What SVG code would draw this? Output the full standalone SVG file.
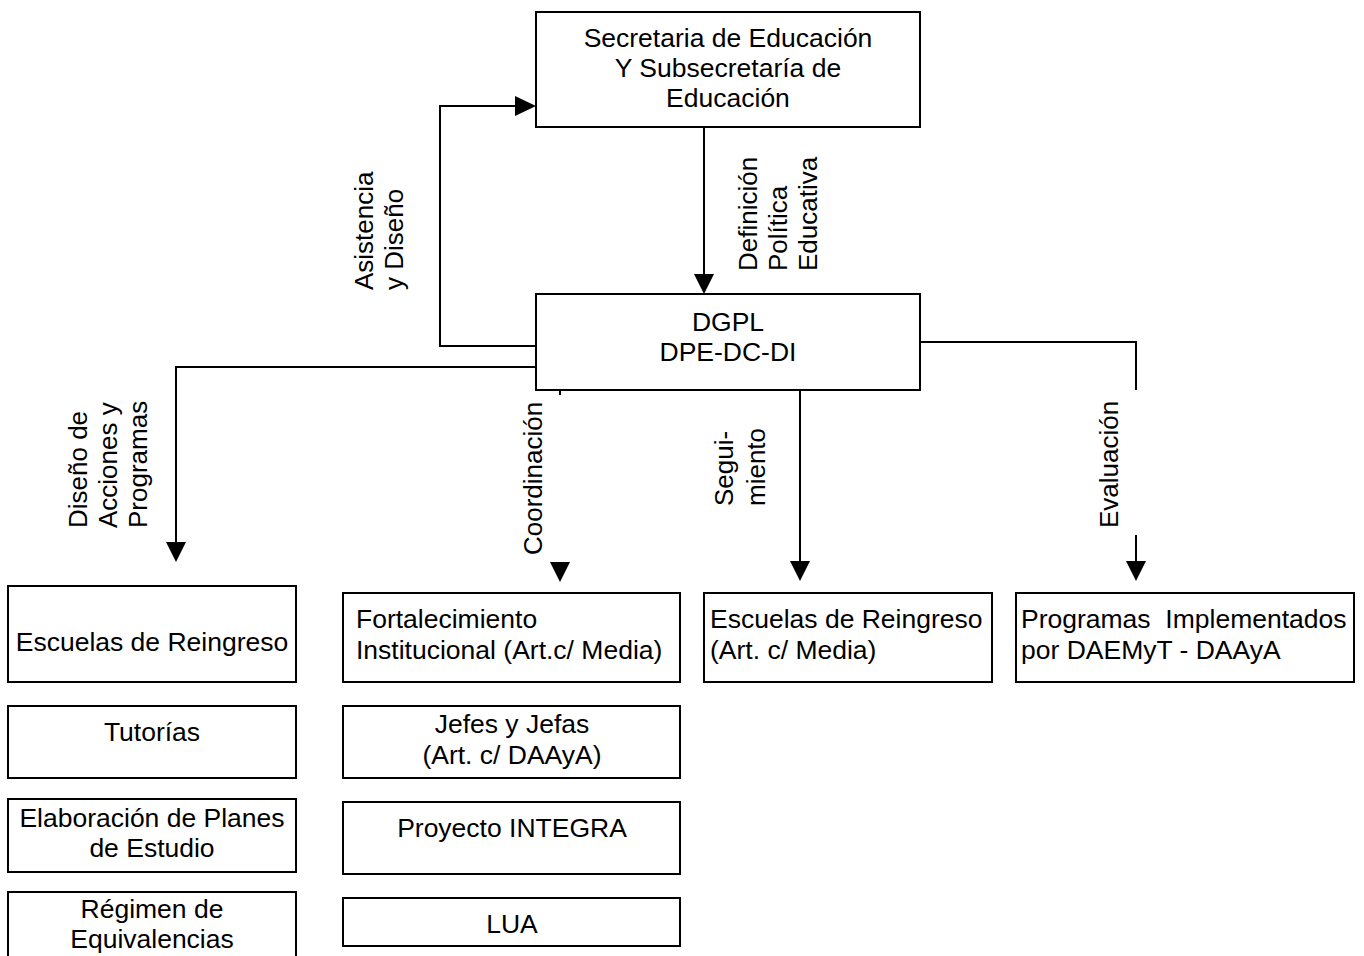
<svg xmlns="http://www.w3.org/2000/svg" width="1364" height="956" viewBox="0 0 1364 956">
<style>
  .box { fill: #ffffff; stroke: #000000; stroke-width: 2; }
  .t { font-family: "Liberation Sans", Arial, sans-serif; font-size: 26.5px; fill: #000000; }
  .c { text-anchor: middle; }
  .r { font-family: "Liberation Sans", Arial, sans-serif; font-size: 26px; fill: #000000; }
  .ln { fill: none; stroke: #000000; stroke-width: 2; }
  .ah { fill: #000000; stroke: none; }
</style>
<rect width="1364" height="956" fill="#ffffff"/>

<g id="connectors">
  <line class="ln" x1="704" y1="127" x2="704" y2="276"/>
  <polygon class="ah" points="694,274 714,274 704,294"/>

  <polyline class="ln" points="536,346 440,346 440,106 517,106"/>
  <polygon class="ah" points="515,96 515,116 536,106"/>

  <polyline class="ln" points="536,367 176,367 176,544"/>
  <polygon class="ah" points="166,542 186,542 176,562"/>

  <line class="ln" x1="560" y1="390" x2="560" y2="395"/>
  <polygon class="ah" points="550,562 570,562 560,582"/>

  <line class="ln" x1="800" y1="390" x2="800" y2="563"/>
  <polygon class="ah" points="790,561 810,561 800,581"/>

  <polyline class="ln" points="920,342 1136,342 1136,390"/>
  <line class="ln" x1="1136" y1="535" x2="1136" y2="563"/>
  <polygon class="ah" points="1126,561 1146,561 1136,581"/>

  <text class="r" transform="translate(373,290) rotate(-90)">Asistencia</text>
  <text class="r" transform="translate(403,290) rotate(-90)">y Diseño</text>

  <text class="r" transform="translate(757,271) rotate(-90)">Definición</text>
  <text class="r" transform="translate(787,271) rotate(-90)">Política</text>
  <text class="r" transform="translate(817,271) rotate(-90)">Educativa</text>

  <text class="r" transform="translate(87,528) rotate(-90)">Diseño de</text>
  <text class="r" transform="translate(117,528) rotate(-90)">Acciones y</text>
  <text class="r" transform="translate(147,528) rotate(-90)">Programas</text>

  <text class="r" transform="translate(542,555) rotate(-90)">Coordinación</text>

  <text class="r" transform="translate(733,506) rotate(-90)">Segui-</text>
  <text class="r" transform="translate(765,506) rotate(-90)">miento</text>

  <text class="r" transform="translate(1118,528) rotate(-90)">Evaluación</text>
</g>

<g id="node-secretaria">
  <rect class="box" x="536" y="12" width="384" height="115"/>
  <text class="t c" x="728" y="47">Secretaria de Educación</text>
  <text class="t c" x="728" y="77">Y Subsecretaría de</text>
  <text class="t c" x="728" y="107">Educación</text>
</g>

<g id="node-dgpl">
  <rect class="box" x="536" y="294" width="384" height="96"/>
  <text class="t c" x="728" y="331">DGPL</text>
  <text class="t c" x="728" y="361">DPE-DC-DI</text>
</g>

<g id="node-escuelas-reingreso">
  <rect class="box" x="8" y="586" width="288" height="96"/>
  <text class="t c" x="152" y="651">Escuelas de Reingreso</text>
</g>

<g id="node-tutorias">
  <rect class="box" x="8" y="706" width="288" height="72"/>
  <text class="t c" x="152" y="741">Tutorías</text>
</g>

<g id="node-planes">
  <rect class="box" x="8" y="799" width="288" height="73"/>
  <text class="t c" x="152" y="827">Elaboración de Planes</text>
  <text class="t c" x="152" y="857">de Estudio</text>
</g>

<g id="node-regimen">
  <rect class="box" x="8" y="892" width="288" height="80"/>
  <text class="t c" x="152" y="918">Régimen de</text>
  <text class="t c" x="152" y="948">Equivalencias</text>
</g>

<g id="node-fortalecimiento">
  <rect class="box" x="343" y="593" width="337" height="89"/>
  <text class="t" x="356" y="628">Fortalecimiento</text>
  <text class="t" x="356" y="659">Institucional (Art.c/ Media)</text>
</g>

<g id="node-jefes">
  <rect class="box" x="343" y="706" width="337" height="72"/>
  <text class="t c" x="512" y="733">Jefes y Jefas</text>
  <text class="t c" x="512" y="764">(Art. c/ DAAyA)</text>
</g>

<g id="node-integra">
  <rect class="box" x="343" y="802" width="337" height="72"/>
  <text class="t c" x="512" y="837">Proyecto INTEGRA</text>
</g>

<g id="node-lua">
  <rect class="box" x="343" y="898" width="337" height="48"/>
  <text class="t c" x="512" y="933">LUA</text>
</g>

<g id="node-escuelas-media">
  <rect class="box" x="704" y="593" width="288" height="89"/>
  <text class="t" x="710" y="628">Escuelas de Reingreso</text>
  <text class="t" x="710" y="659">(Art. c/ Media)</text>
</g>

<g id="node-programas">
  <rect class="box" x="1016" y="593" width="338" height="89"/>
  <text class="t" x="1021" y="628" xml:space="preserve" style="white-space:pre">Programas  Implementados</text>
  <text class="t" x="1021" y="659">por DAEMyT - DAAyA</text>
</g>
</svg>
